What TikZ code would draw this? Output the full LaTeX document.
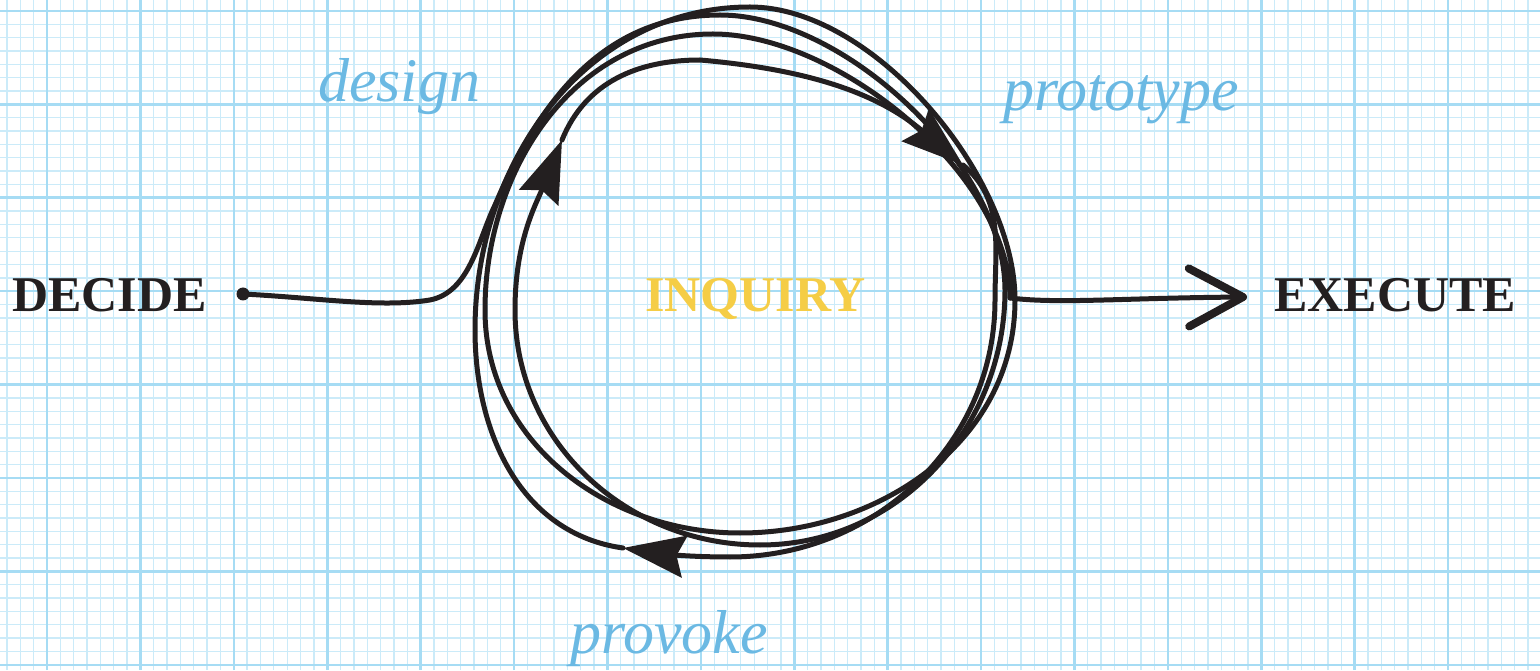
\documentclass[tikz,border=0pt]{standalone}
\usepackage{fontspec}
\setmainfont{Liberation Serif}
\usetikzlibrary{arrows.meta}
\definecolor{ink}{HTML}{231F20}
\definecolor{bluetext}{HTML}{6BB9E3}
\definecolor{gold}{HTML}{F5CD46}
\definecolor{gridminor}{HTML}{CBEBF9}
\definecolor{gridmajor}{HTML}{A6DCF4}
\begin{document}
\begin{tikzpicture}[x=1pt,y=1pt,
  gridmin/.style={gridminor, line width=1.3pt},
  gridmaj/.style={gridmajor, line width=2.6pt},
  inkline/.style={ink, line width=5pt, line cap=round, line join=round},
  loophead/.style={-{Stealth[length=62pt,width=42pt,inset=8pt]}},
  txt/.style={inner sep=0pt, anchor=base west},
  capsword/.style={font=\bfseries\fontsize{50}{60}\selectfont},
  verbword/.style={font=\itshape\fontsize{62}{72}\selectfont, text=bluetext}
]
\useasboundingbox (0,0) rectangle (1540,670);
\fill[white] (0,0) rectangle (1540,670);
\begin{scope}
\clip (0,0) rectangle (1540,670);
\foreach \i in {-4,...,112} {\pgfmathsetmacro\gx{47+\i*13.343}\draw[gridmin] (\gx,0) -- (\gx,670);}
\foreach \j in {-1,...,50} {\pgfmathsetmacro\gy{659-\j*13.343}\draw[gridmin] (0,\gy) -- (1540,\gy);}
\foreach \i in {0,...,16} {\pgfmathsetmacro\gx{47+\i*93.4}\draw[gridmaj] (\gx,0) -- (\gx,670);}
\foreach \j in {0,...,7} {\pgfmathsetmacro\gy{659-\j*93.4}\draw[gridmaj] (0,\gy) -- (1540,\gy);}
\end{scope}

% texts
\node[txt, capsword, text=ink] (decide) at (12,358) {DECIDE};
\node[txt, capsword, text=ink] (execute) at (1274,358) {EXECUTE};
\node[txt, capsword, text=gold] (inquiry) at (645,358) {INQUIRY};
\node[txt, verbword] (design) at (318,568) {design};
\node[txt, verbword] (prototype) at (1003,559) {prototype};
\node[txt, verbword] (provoke) at (570,17) {provoke};

% key points of the scribbled loop
\coordinate (D) at (243,376);
\coordinate (E1) at (495,465);
\coordinate (T1) at (720,655);
\coordinate (R1) at (1005,380);
\coordinate (B1) at (760,125);
\coordinate (L1) at (515,360);
\coordinate (AL) at (562,530);
\coordinate (T2) at (700,610);
\coordinate (AR) at (963,505);
\coordinate (R2) at (995,370);
\coordinate (B2) at (730,113);
\coordinate (AB) at (623,122);
\coordinate (L2) at (475,340);
\coordinate (T3) at (750,663);
\coordinate (R3) at (1015,370);
\coordinate (B3) at (740,137);
\coordinate (L3) at (485,360);
\coordinate (T4) at (713,636);
\coordinate (X) at (1010,372);
\coordinate (EX) at (1247,373);

\fill[ink] (D) circle (6.5);
\draw[inkline, loophead] (D) .. controls (320,372) and (380,362) .. (430,370)
  .. controls (470,378) and (478,430) .. (E1)
  to[out=67,in=180] (T1) to[out=0,in=90,looseness=0.8] (R1)
  to[out=270,in=0] (B1) to[out=180,in=270] (L1) to[out=90,in=248] (AL);
\draw[inkline, loophead] (AL) to[out=68,in=180] (T2)
  to[out=-5,in=140] (AR);
\draw[inkline, loophead] (AR) to[out=-40,in=90] (R2) to[out=270,in=0] (B2)
  to[out=180,in=-8] (AB);
\draw[inkline] (AB) to[out=172,in=270] (L2) to[out=90,in=180] (T3)
  to[out=0,in=90,looseness=0.8] (R3) to[out=270,in=0] (B3)
  to[out=180,in=270] (L3) to[out=90,in=180] (T4)
  to[out=0,in=90,looseness=0.8] (X);
\draw[inkline, -{Straight Barb[length=54pt,width=58pt,line width=8pt,round]}]
  (X) .. controls (1060,366) and (1120,372) .. (EX);
\end{tikzpicture}
\end{document}
